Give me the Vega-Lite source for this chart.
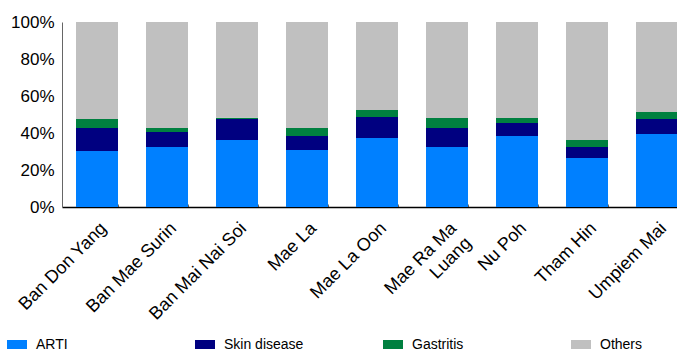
{
  "$schema": "https://vega.github.io/schema/vega-lite/v6.json",
  "autosize": {"type": "none"},
  "padding": {"left": 62, "top": 22, "right": -15, "bottom": 142},
  "width": 630,
  "height": 185,
  "background": "white",
  "config": {
    "font": "Liberation Sans",
    "view": {"stroke": null}
  },
  "data": {
    "values": [
      {"camp": "Ban Don Yang", "disease": "ARTI", "order": 1, "value": 30.3},
      {"camp": "Ban Don Yang", "disease": "Skin disease", "order": 2, "value": 12.4},
      {"camp": "Ban Don Yang", "disease": "Gastritis", "order": 3, "value": 4.9},
      {"camp": "Ban Don Yang", "disease": "Others", "order": 4, "value": 52.4},
      {"camp": "Ban Mae Surin", "disease": "ARTI", "order": 1, "value": 32.4},
      {"camp": "Ban Mae Surin", "disease": "Skin disease", "order": 2, "value": 8.1},
      {"camp": "Ban Mae Surin", "disease": "Gastritis", "order": 3, "value": 2.2},
      {"camp": "Ban Mae Surin", "disease": "Others", "order": 4, "value": 57.3},
      {"camp": "Ban Mai Nai Soi", "disease": "ARTI", "order": 1, "value": 36.2},
      {"camp": "Ban Mai Nai Soi", "disease": "Skin disease", "order": 2, "value": 11.4},
      {"camp": "Ban Mai Nai Soi", "disease": "Gastritis", "order": 3, "value": 0.7},
      {"camp": "Ban Mai Nai Soi", "disease": "Others", "order": 4, "value": 51.7},
      {"camp": "Mae La", "disease": "ARTI", "order": 1, "value": 30.8},
      {"camp": "Mae La", "disease": "Skin disease", "order": 2, "value": 7.6},
      {"camp": "Mae La", "disease": "Gastritis", "order": 3, "value": 4.3},
      {"camp": "Mae La", "disease": "Others", "order": 4, "value": 57.3},
      {"camp": "Mae La Oon", "disease": "ARTI", "order": 1, "value": 37.3},
      {"camp": "Mae La Oon", "disease": "Skin disease", "order": 2, "value": 11.3},
      {"camp": "Mae La Oon", "disease": "Gastritis", "order": 3, "value": 3.8},
      {"camp": "Mae La Oon", "disease": "Others", "order": 4, "value": 47.6},
      {"camp": "Mae Ra Ma Luang", "disease": "ARTI", "order": 1, "value": 32.4},
      {"camp": "Mae Ra Ma Luang", "disease": "Skin disease", "order": 2, "value": 10.3},
      {"camp": "Mae Ra Ma Luang", "disease": "Gastritis", "order": 3, "value": 5.4},
      {"camp": "Mae Ra Ma Luang", "disease": "Others", "order": 4, "value": 51.9},
      {"camp": "Nu Poh", "disease": "ARTI", "order": 1, "value": 38.4},
      {"camp": "Nu Poh", "disease": "Skin disease", "order": 2, "value": 7.0},
      {"camp": "Nu Poh", "disease": "Gastritis", "order": 3, "value": 2.7},
      {"camp": "Nu Poh", "disease": "Others", "order": 4, "value": 51.9},
      {"camp": "Tham Hin", "disease": "ARTI", "order": 1, "value": 26.5},
      {"camp": "Tham Hin", "disease": "Skin disease", "order": 2, "value": 5.9},
      {"camp": "Tham Hin", "disease": "Gastritis", "order": 3, "value": 3.8},
      {"camp": "Tham Hin", "disease": "Others", "order": 4, "value": 63.8},
      {"camp": "Umpiem Mai", "disease": "ARTI", "order": 1, "value": 39.5},
      {"camp": "Umpiem Mai", "disease": "Skin disease", "order": 2, "value": 8.1},
      {"camp": "Umpiem Mai", "disease": "Gastritis", "order": 3, "value": 3.8},
      {"camp": "Umpiem Mai", "disease": "Others", "order": 4, "value": 48.6}
    ]
  },
  "mark": {"type": "bar"},
  "encoding": {
    "x": {
      "field": "camp",
      "type": "nominal",
      "sort": null,
      "scale": {"paddingInner": 0.4, "paddingOuter": 0.2},
      "axis": {
        "title": null,
        "labelAngle": -45,
        "labelFontSize": 18,
        "labelColor": "black",
        "labelPadding": 15,
        "labelExpr": "datum.value == 'Mae Ra Ma Luang' ? ['Mae Ra Ma', 'Luang'] : datum.value",
        "labelLineHeight": 21,
        "domainColor": "black",
        "domainWidth": 1.5,
        "tickBand": "extent",
        "tickSize": -3,
        "tickColor": "#666666",
        "grid": false
      }
    },
    "y": {
      "field": "value",
      "type": "quantitative",
      "stack": "normalize",
      "scale": {"domain": [0, 1]},
      "axis": {
        "title": null,
        "values": [0, 0.2, 0.4, 0.6, 0.8, 1],
        "format": ".0%",
        "labelFontSize": 17,
        "labelColor": "black",
        "labelPadding": 8,
        "ticks": false,
        "grid": false,
        "domainColor": "#666666",
        "domainWidth": 1
      }
    },
    "color": {
      "field": "disease",
      "type": "nominal",
      "scale": {
        "domain": ["ARTI", "Skin disease", "Gastritis", "Others"],
        "range": ["#0080FF", "#000080", "#008040", "#C0C0C0"]
      },
      "legend": {
        "title": null,
        "orient": "none",
        "direction": "horizontal",
        "columns": 4,
        "gridAlign": "all",
        "legendX": -55,
        "legendY": 313,
        "symbolType": "M-1,-0.5H1V0.5H-1Z",
        "symbolSize": 400,
        "symbolStrokeWidth": 0,
        "labelFontSize": 14,
        "labelColor": "black",
        "labelOffset": 9,
        "columnPadding": 79
      }
    },
    "order": {"field": "order", "type": "quantitative"}
  }
}
